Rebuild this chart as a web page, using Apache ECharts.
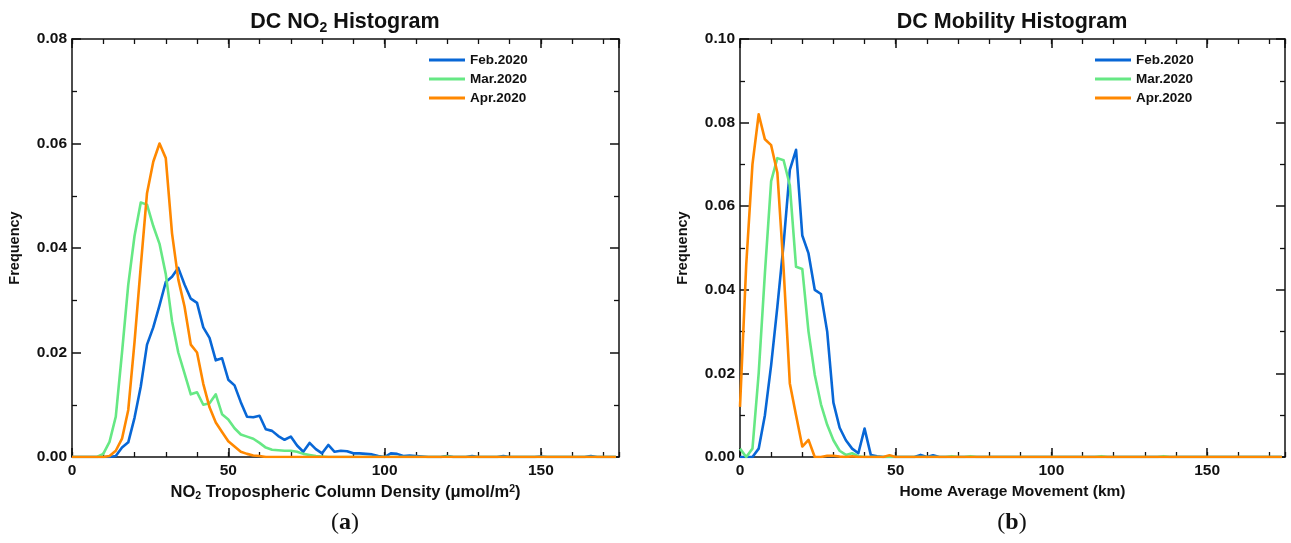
<!DOCTYPE html>
<html>
<head>
<meta charset="utf-8">
<title>DC NO2 and Mobility Histograms</title>
<script src="https://cdn.jsdelivr.net/npm/echarts@6/dist/echarts.min.js"></script>
<style>
  html, body { margin: 0; padding: 0; background: #ffffff; }
  #chart { width: 1291px; height: 543px; }
</style>
</head>
<body>
<div id="chart"></div>
<script>
// Histogram bins: each value is the frequency of a 2-unit bin starting at 0.
const binWidth = 2;
const seriesNames = ['Feb.2020', 'Mar.2020', 'Apr.2020'];
const seriesColors = ['#0867d6', '#66e884', '#ff8800'];

// Panel (a): NO2 tropospheric column density (umol/m2), bins 0..174
const no2Feb = [
  0, 0, 0, 0, 0, 0, 0, 0.0002, 0.0018, 0.0028,
  0.0075, 0.0135, 0.0215, 0.0248, 0.029, 0.0335, 0.0345, 0.0362, 0.033, 0.0303,
  0.0295, 0.0248, 0.0228, 0.0185, 0.0189, 0.0148, 0.0137, 0.0105, 0.0077, 0.0076,
  0.0079, 0.0053, 0.005, 0.004, 0.0033, 0.0039, 0.0022, 0.001, 0.0027, 0.0015,
  0.0007, 0.0023, 0.001, 0.0012, 0.0011, 0.0007, 0.0007, 0.0006, 0.0005, 0.0002,
  0, 0.0007, 0.0006, 0.0002, 0.0003, 0.0002, 0.0001, 0, 0, 0,
  0.0002, 0, 0, 0, 0.0002, 0, 0, 0, 0, 0.0002,
  0, 0, 0, 0, 0, 0.0001, 0, 0, 0, 0,
  0, 0, 0, 0.0002, 0, 0, 0, 0
];
const no2Mar = [
  0, 0, 0, 0, 0, 0.0006, 0.0029, 0.0077, 0.020, 0.033,
  0.0423, 0.0487, 0.0483, 0.0442, 0.0408, 0.035, 0.026, 0.020, 0.016, 0.012,
  0.0124, 0.010, 0.0103, 0.012, 0.0082, 0.0072, 0.0055, 0.0043, 0.0039, 0.0035,
  0.0027, 0.0018, 0.0014, 0.0013, 0.0012, 0.0012, 0.001, 0.0006, 0.0004, 0.0002,
  0.0001, 0, 0, 0, 0, 0, 0, 0, 0, 0,
  0, 0, 0, 0, 0, 0, 0, 0, 0, 0,
  0.0001, 0, 0, 0, 0, 0, 0, 0, 0, 0,
  0, 0, 0, 0, 0, 0, 0, 0, 0, 0,
  0, 0, 0, 0, 0, 0, 0, 0
];
const no2Apr = [
  0, 0, 0, 0, 0, 0, 0.0002, 0.0012, 0.0035, 0.009,
  0.022, 0.0365, 0.0505, 0.0565, 0.0600, 0.0572, 0.0428, 0.034, 0.0288, 0.0215,
  0.0200, 0.014, 0.0095, 0.0066, 0.0048, 0.003, 0.002, 0.001, 0.0006, 0.0003,
  0.0002, 0, 0, 0, 0, 0, 0, 0, 0, 0,
  0, 0, 0, 0, 0, 0, 0, 0, 0, 0,
  0, 0, 0, 0, 0, 0, 0, 0, 0, 0,
  0, 0, 0, 0, 0, 0, 0, 0, 0, 0,
  0, 0, 0, 0, 0, 0, 0, 0, 0, 0,
  0, 0, 0, 0, 0, 0, 0, 0
];

// Panel (b): home average movement (km), bins 0..174
const mobFeb = [
  0, 0, 0, 0.002, 0.010, 0.022, 0.036, 0.051, 0.0687, 0.0735,
  0.053, 0.0487, 0.040, 0.039, 0.030, 0.013, 0.007, 0.004, 0.002, 0.0009,
  0.0068, 0.0005, 0.0002, 0, 0, 0, 0, 0, 0, 0.0005,
  0, 0.0004, 0, 0, 0, 0, 0, 0, 0, 0,
  0, 0, 0, 0, 0, 0, 0, 0, 0, 0,
  0, 0, 0, 0, 0, 0, 0, 0, 0, 0,
  0, 0, 0, 0, 0, 0, 0, 0, 0, 0,
  0, 0, 0, 0, 0, 0, 0, 0, 0, 0,
  0, 0, 0, 0, 0, 0, 0, 0
];
const mobMar = [
  0.002, 0, 0.002, 0.020, 0.044, 0.066, 0.0715, 0.071, 0.065, 0.0455,
  0.045, 0.030, 0.0197, 0.0126, 0.0077, 0.004, 0.0015, 0.0005, 0.0009, 0.0002,
  0, 0, 0, 0, 0, 0, 0, 0, 0, 0,
  0, 0, 0, 0, 0.0002, 0, 0, 0.0002, 0, 0,
  0, 0, 0, 0, 0, 0, 0, 0, 0, 0,
  0, 0, 0, 0, 0, 0, 0, 0, 0.0002, 0,
  0, 0, 0, 0, 0, 0, 0, 0, 0.0002, 0,
  0, 0, 0, 0, 0, 0, 0, 0, 0, 0,
  0, 0, 0, 0, 0, 0, 0, 0
];
const mobApr = [
  0.012, 0.046, 0.070, 0.082, 0.076, 0.0746, 0.068, 0.045, 0.0176, 0.010,
  0.0025, 0.0041, 0, 0, 0.0003, 0.0003, 0.0001, 0, 0.0002, 0,
  0, 0, 0, 0, 0.0004, 0, 0, 0, 0, 0,
  0, 0, 0, 0, 0, 0, 0, 0, 0, 0,
  0, 0, 0, 0, 0, 0, 0, 0, 0, 0,
  0, 0, 0, 0, 0, 0, 0, 0, 0, 0,
  0, 0, 0, 0, 0, 0, 0, 0, 0, 0,
  0, 0, 0, 0, 0, 0, 0, 0, 0, 0,
  0, 0, 0, 0, 0, 0, 0, 0
];

// Axis setup
const xMax = 175;
const xMajor = 50;
const xMinor = 10;
const no2YMax = 0.08;
const mobYMax = 0.10;
const yMajor = 0.02;

const FONT = "'Liberation Sans', Arial, Helvetica, sans-serif";
const SERIF = "'Liberation Serif', 'Times New Roman', serif";
const INK = '#111111';

function toPairs(values) {
  return values.map((v, i) => [i * binWidth, v]);
}

const leftGrid = { left: 72, top: 39, width: 547, height: 418 };
const rightGrid = { left: 740, top: 39, width: 545, height: 418 };

function majorX(gridIndex, position, withLabels, name) {
  const ax = {
    type: 'value', gridIndex, position, min: 0, max: xMax, interval: xMajor,
    axisLine: { show: true, onZero: false, lineStyle: { color: INK, width: 1.5 } },
    axisTick: { show: true, inside: true, length: 9, lineStyle: { color: INK, width: 1.5 } },
    axisLabel: {
      show: withLabels, showMaxLabel: false, margin: 6,
      fontFamily: FONT, fontSize: 15.5, fontWeight: 'bold', color: INK
    },
    splitLine: { show: false }
  };
  if (name) {
    ax.name = name.text;
    ax.nameLocation = 'middle';
    ax.nameGap = 24;
    ax.nameTextStyle = {
      fontFamily: FONT, fontSize: 15.5, fontWeight: 'bold', color: INK,
      rich: {
        m: { fontFamily: FONT, fontSize: name.size, fontWeight: 'bold', color: INK, lineHeight: 18 },
        sub: { fontFamily: FONT, fontSize: 10.5, fontWeight: 'bold', color: INK, lineHeight: 10, verticalAlign: 'bottom' },
        sup: { fontFamily: FONT, fontSize: 10.5, fontWeight: 'bold', color: INK, lineHeight: 10, verticalAlign: 'top' }
      }
    };
  }
  return ax;
}

function minorX(gridIndex, position) {
  return {
    type: 'value', gridIndex, position, min: 0, max: xMax, interval: xMinor,
    axisLine: { show: false },
    axisTick: { show: true, inside: true, length: 5, lineStyle: { color: INK, width: 1.3 } },
    axisLabel: { show: false },
    splitLine: { show: false }
  };
}

function majorY(gridIndex, position, yMax, withLabels) {
  const ax = {
    type: 'value', gridIndex, position, min: 0, max: yMax, interval: yMajor,
    axisLine: { show: true, onZero: false, lineStyle: { color: INK, width: 1.5 } },
    axisTick: { show: true, inside: true, length: 9, lineStyle: { color: INK, width: 1.5 } },
    minorTick: { show: true, splitNumber: 2, length: 5, lineStyle: { color: INK, width: 1.3 } },
    axisLabel: {
      show: withLabels, margin: 5,
      fontFamily: FONT, fontSize: 15.5, fontWeight: 'bold', color: INK,
      formatter: v => v.toFixed(2)
    },
    splitLine: { show: false }
  };
  if (withLabels) {
    ax.name = 'Frequency';
    ax.nameLocation = 'middle';
    ax.nameGap = 50;
    ax.nameTextStyle = { fontFamily: FONT, fontSize: 14.5, fontWeight: 'bold', color: INK };
  }
  return ax;
}

function hiddenY(gridIndex) {
  return { type: 'value', gridIndex, min: 0, max: 1, show: false };
}

function lineSeries(name, color, xIdx, yIdx, values, z) {
  return {
    name, type: 'line', xAxisIndex: xIdx, yAxisIndex: yIdx,
    data: toPairs(values),
    showSymbol: false, symbol: 'none', smooth: false, z,
    lineStyle: { color, width: 2.6, join: 'round' },
    itemStyle: { color },
    emphasis: { disabled: true }
  };
}

function legendAt(left) {
  return {
    orient: 'vertical', left, top: 48,
    icon: 'rect', itemWidth: 36, itemHeight: 3, itemGap: 5,
    data: seriesNames,
    textStyle: { fontFamily: FONT, fontSize: 13.5, fontWeight: 'bold', color: INK },
    selectedMode: false
  };
}

const chart = echarts.init(document.getElementById('chart'), null, { renderer: 'canvas' });

const option = {
  backgroundColor: '#ffffff',
  animation: false,
  grid: [
    Object.assign({}, leftGrid),
    Object.assign({}, leftGrid),
    Object.assign({}, rightGrid),
    Object.assign({}, rightGrid)
  ],
  xAxis: [
    majorX(0, 'bottom', true, { text: '{m|NO}{sub|2}{m| Tropospheric Column Density (μmol/m}{sup|2}{m|)}', size: 16.5 }),
    majorX(0, 'top', false),
    minorX(1, 'bottom'),
    minorX(1, 'top'),
    majorX(2, 'bottom', true, { text: '{m|Home Average Movement (km)}', size: 15.5 }),
    majorX(2, 'top', false),
    minorX(3, 'bottom'),
    minorX(3, 'top')
  ],
  yAxis: [
    majorY(0, 'left', no2YMax, true),
    majorY(0, 'right', no2YMax, false),
    hiddenY(1),
    majorY(2, 'left', mobYMax, true),
    majorY(2, 'right', mobYMax, false),
    hiddenY(3)
  ],
  legend: [legendAt(424), legendAt(1090)],
  series: [
    lineSeries(seriesNames[0], seriesColors[0], 0, 0, no2Feb, 3),
    lineSeries(seriesNames[1], seriesColors[1], 0, 0, no2Mar, 4),
    lineSeries(seriesNames[2], seriesColors[2], 0, 0, no2Apr, 5),
    lineSeries(seriesNames[0], seriesColors[0], 4, 3, mobFeb, 3),
    lineSeries(seriesNames[1], seriesColors[1], 4, 3, mobMar, 4),
    lineSeries(seriesNames[2], seriesColors[2], 4, 3, mobApr, 5)
  ],
  graphic: [
    {
      type: 'text', x: 345, y: 22,
      style: {
        text: '{t|DC NO}{s|2}{t| Histogram}',
        align: 'center', verticalAlign: 'middle',
        rich: {
          t: { fontFamily: FONT, fontSize: 21.5, fontWeight: 'bold', fill: INK, lineHeight: 26 },
          s: { fontFamily: FONT, fontSize: 14, fontWeight: 'bold', fill: INK, lineHeight: 14, verticalAlign: 'bottom' }
        }
      }
    },
    {
      type: 'text', x: 1012, y: 22,
      style: {
        text: 'DC Mobility Histogram',
        align: 'center', verticalAlign: 'middle',
        fontFamily: FONT, fontSize: 21.5, fontWeight: 'bold', fill: INK
      }
    },
    {
      type: 'text', x: 345, y: 523,
      style: {
        text: '{p|(}{b|a}{p|)}',
        align: 'center', verticalAlign: 'middle',
        rich: {
          p: { fontFamily: SERIF, fontSize: 24, fill: INK },
          b: { fontFamily: SERIF, fontSize: 24, fontWeight: 'bold', fill: INK }
        }
      }
    },
    {
      type: 'text', x: 1012, y: 523,
      style: {
        text: '{p|(}{b|b}{p|)}',
        align: 'center', verticalAlign: 'middle',
        rich: {
          p: { fontFamily: SERIF, fontSize: 24, fill: INK },
          b: { fontFamily: SERIF, fontSize: 24, fontWeight: 'bold', fill: INK }
        }
      }
    }
  ]
};

chart.setOption(option);
</script>
</body>
</html>
